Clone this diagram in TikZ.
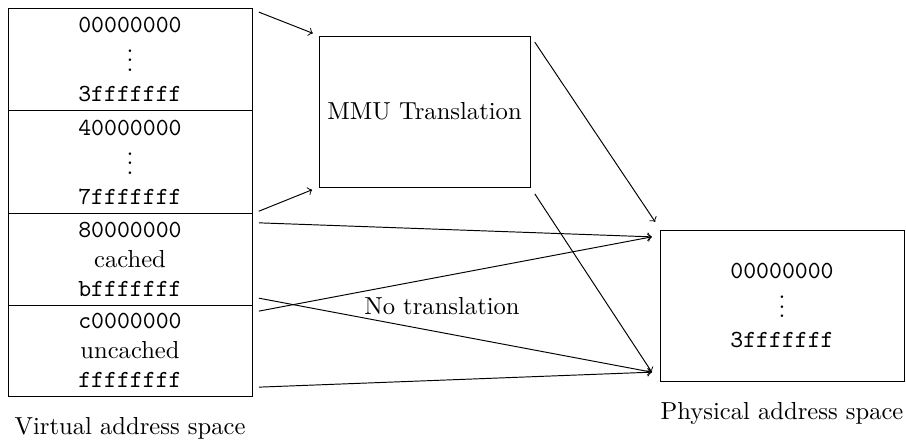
\documentclass[tikz,border=0pt]{standalone}
\usepackage{amsmath}
\usepackage{fontspec}
\usepackage{tikz}
\usetikzlibrary{positioning}

\begin{document}
\begin{tikzpicture}[
        every node/.append style={font=\fontsize{10.25pt}{12.4pt}\selectfont},
        region/.style={draw, align=center, minimum width=3.573cm, inner sep=0pt, outer sep=0pt},
        regiontall/.style={region, minimum height=1.508cm},
        regionshort/.style={region, minimum height=1.333cm},
        unit/.style={draw, align=center, minimum height=2.211cm, inner sep=0pt, outer sep=0pt},
        flow/.style={->}
    ]
        \useasboundingbox (0,0) rectangle (13.267,-6.472);

        % virtual address space
        \node[regiontall, anchor=north west] (seg1) at (0.117,-0.117) {
            \texttt{00000000}\\ $\vdots$\\ \texttt{3fffffff}
        };
        \node[regiontall, below=0pt of seg1] (seg2) {
            \texttt{40000000}\\ $\vdots$\\ \texttt{7fffffff}
        };
        \node[regionshort, below=0pt of seg2] (seg3) {
            \texttt{80000000}\\ cached\\ \texttt{bfffffff}
        };
        \node[regionshort, below=0pt of seg3] (seg4) {
            \texttt{c0000000}\\ uncached\\ \texttt{ffffffff}
        };
        \node (virtlabel) at (1.904,-6.267) {Virtual address space};

        % translation unit
        \node[unit, minimum width=3.09cm] (mmu) at (6.216,-1.633) {MMU Translation};

        % physical address space
        \node[unit, minimum width=3.573cm] (phys) at (11.451,-4.474) {
            \texttt{00000000}\\ $\vdots$\\ \texttt{3fffffff}
        };
        \node (physlabel) at (11.451,-6.048) {Physical address space};

        \node (notrans) at (6.472,-4.481) {No translation};

        \draw[flow] ([shift={(0.10,-0.06)}]seg1.north east) -- ([shift={(-0.09,0.04)}]mmu.north west);
        \draw[flow] ([shift={(0.10,0.04)}]seg2.south east) -- ([shift={(-0.10,-0.04)}]mmu.south west);
        \draw[flow] ([shift={(0.07,-0.09)}]mmu.north east) -- ([shift={(-0.07,0.12)}]phys.north west);
        \draw[flow] ([shift={(0.07,-0.10)}]mmu.south east) -- ([shift={(-0.12,0.13)}]phys.south west);
        \draw[flow] ([shift={(0.10,-0.13)}]seg3.north east) -- ([shift={(-0.12,-0.10)}]phys.north west);
        \draw[flow] ([shift={(0.10,-0.09)}]seg4.north east) -- ([shift={(-0.12,-0.10)}]phys.north west);
        \draw[flow] ([shift={(0.10,0.10)}]seg3.south east) -- ([shift={(-0.12,0.13)}]phys.south west);
        \draw[flow] ([shift={(0.10,0.13)}]seg4.south east) -- ([shift={(-0.12,0.13)}]phys.south west);
    \end{tikzpicture}
\end{document}
